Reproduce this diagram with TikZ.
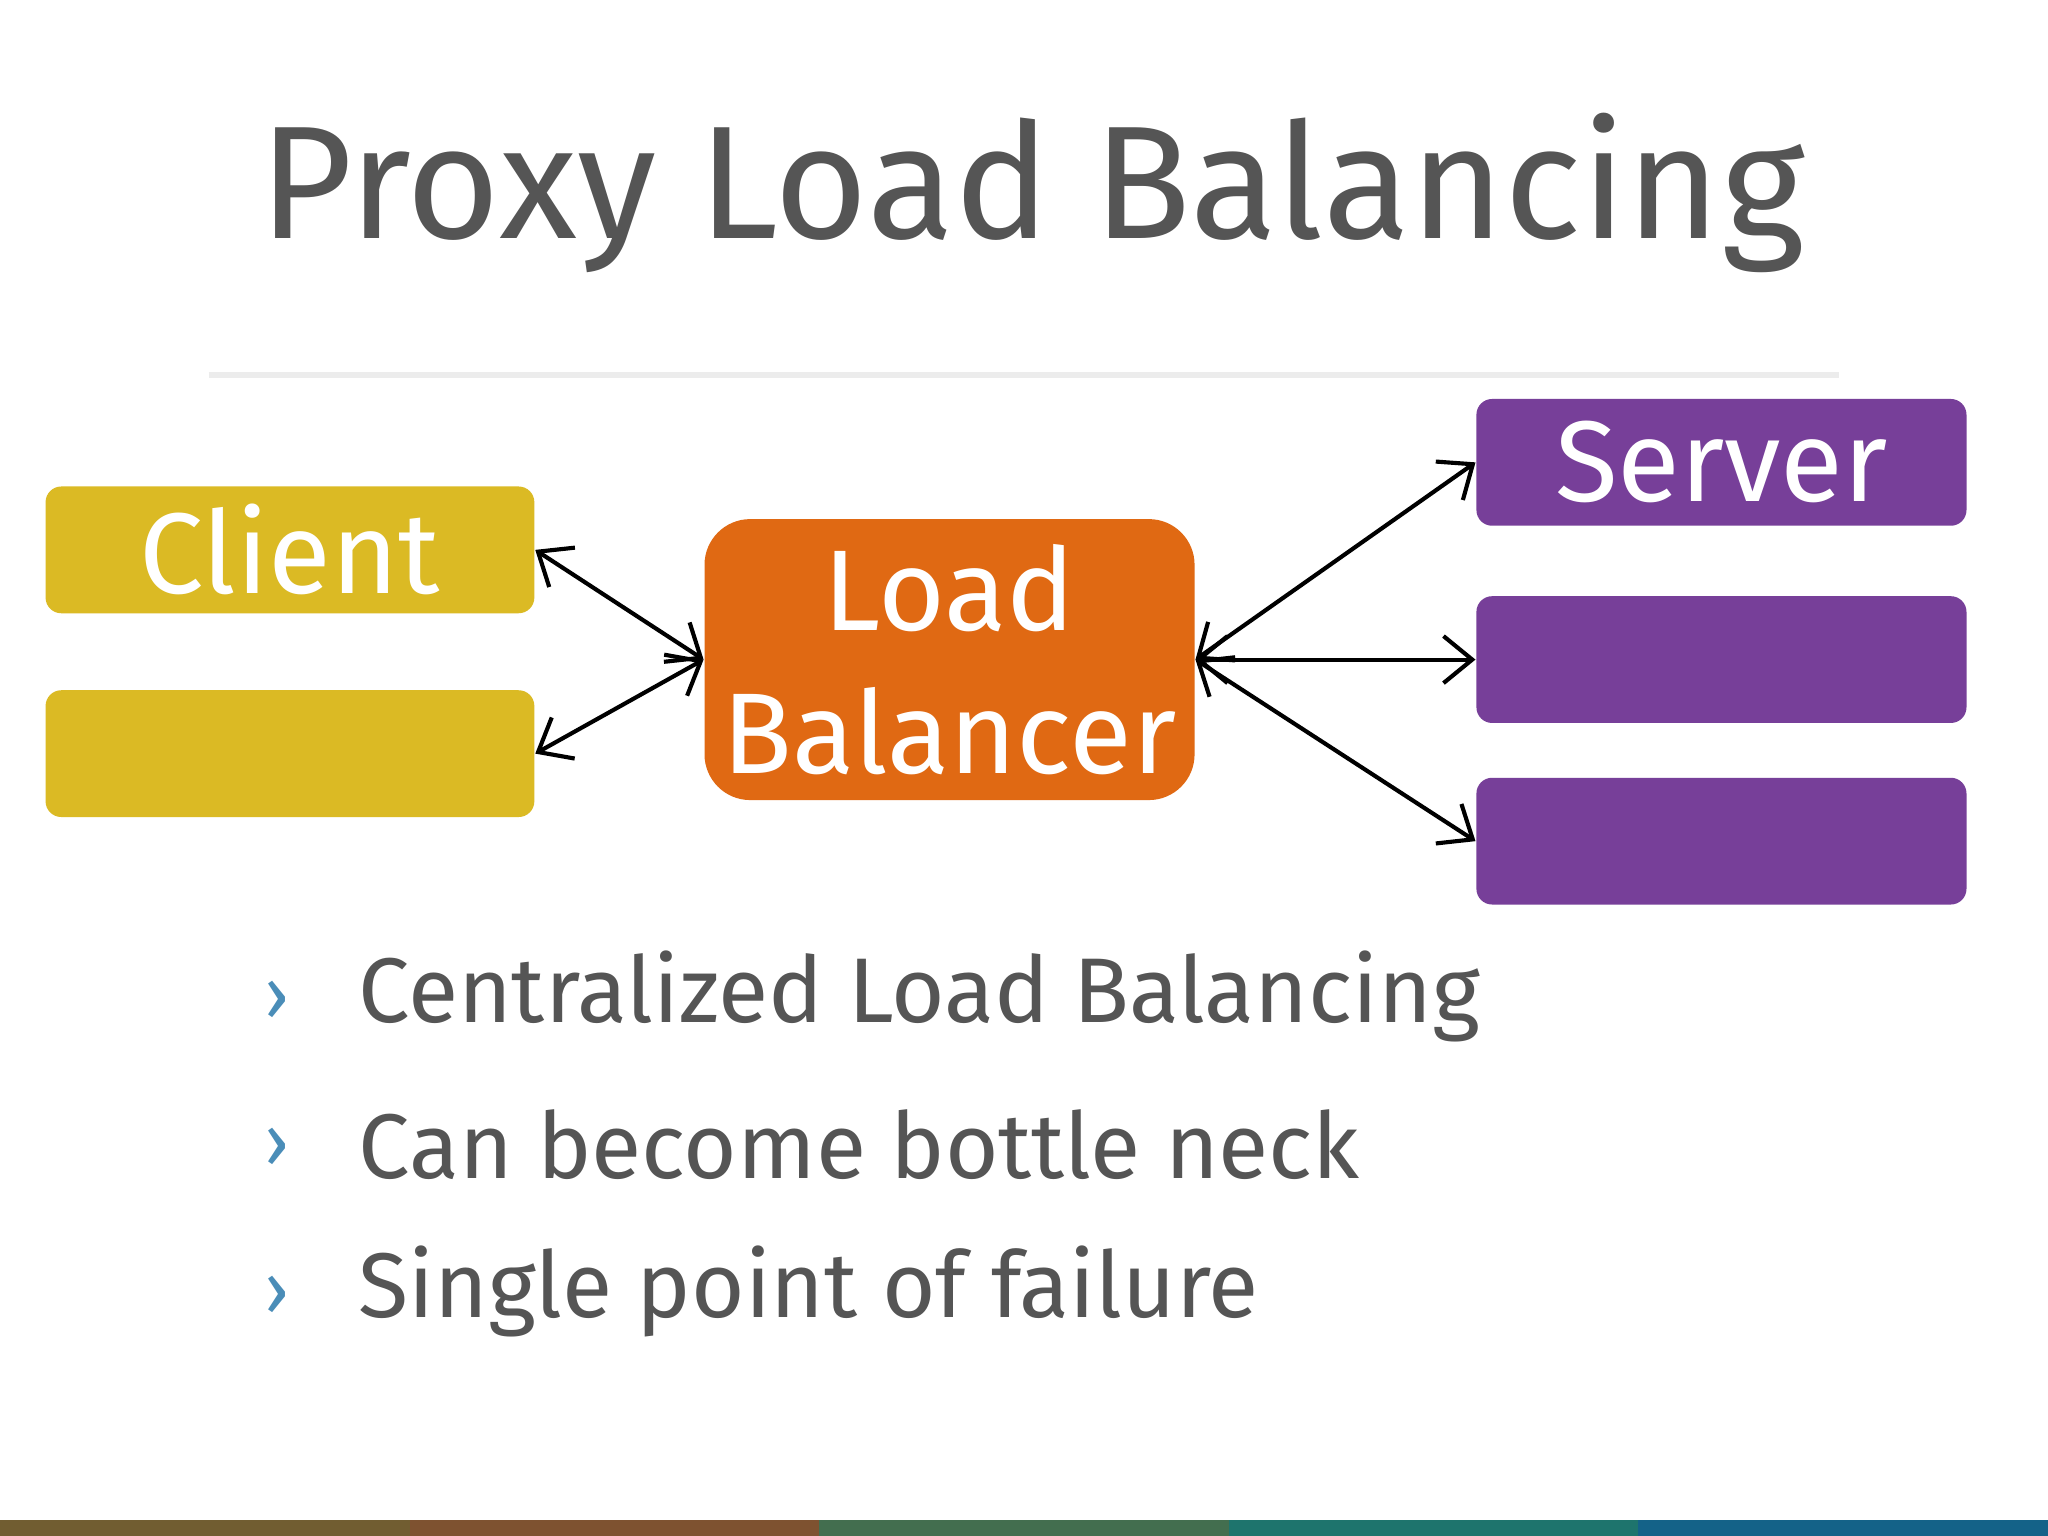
\documentclass[tikz,border=0pt]{standalone}
\usepackage{fontspec}
\setmainfont{Fira Sans}
\usetikzlibrary{arrows.meta}
\definecolor{titlegray}{HTML}{555555}
\definecolor{clientyellow}{HTML}{DBBA24}
\definecolor{lborange}{HTML}{E06913}
\definecolor{serverpurple}{HTML}{773F99}
\definecolor{chevblue}{HTML}{4A8DB8}
\begin{document}
\begin{tikzpicture}[x=0.01cm, y=-0.01cm, >={Straight Barb[length=2.2mm,width=3.6mm,line width=0.9pt]},
  client/.style={rectangle,rounded corners=0.12cm,fill=clientyellow,minimum width=3.74cm,minimum height=0.97cm,text=white,font=\fontsize{25}{28}\selectfont},
  server/.style={rectangle,rounded corners=0.12cm,fill=serverpurple,minimum width=3.75cm,minimum height=0.97cm,text=white,font=\fontsize{25}{28}\selectfont},
  link/.style={<->,line width=0.9pt},
  bullet/.style={anchor=west,text=titlegray,font=\fontsize{20}{24}\selectfont}]

  \useasboundingbox[fill=white] (0,0) rectangle (1568,1176);

  % title
  \node[text=titlegray,font=\fontsize{35}{40}\selectfont] (title) at (790,148) {Proxy Load Balancing};
  \draw[gray!15,line width=1.2pt] (160,287) -- (1408,287);

  % clients
  \node[client] (client-1) at (222,421) {Client};
  \node[client] (client-2) at (222,577) {};

  % load balancer
  \node[rectangle,rounded corners=0.35cm,fill=lborange,minimum width=3.75cm,minimum height=2.15cm,text=white,align=center,font=\fontsize{25}{31}\selectfont] (lb) at (727,505) {Load\\Balancer};

  % servers
  \node[server] (server-1) at (1318,354) {Server};
  \node[server] (server-2) at (1318,505) {};
  \node[server] (server-3) at (1318,644) {};

  % links
  \foreach \c in {1,2}
      \draw[link] (client-\c.east) -- (lb.west);
  \foreach \s in {1,2,3}
      \draw[link] (lb.east) -- (server-\s.west);

  % bullets
  \foreach \t [count=\i] in {Centralized Load Balancing,Can become bottle neck,Single point of failure}
  {
      \node[text=chevblue,font=\fontsize{16}{18}\selectfont] (chev-\i) at (212,653+113*\i) {›};
      \node[bullet] (item-\i) at (262,650+113*\i) {\t};
  }

  % bottom stripe
  \foreach \col [count=\i] in {F5C96A,EE9B5A,77C38C,2FB3A8,1E91C9}
      \fill[color={rgb,255:red,0;green,0;blue,0},fill=white] (0,0) rectangle (0,0);
  \fill[fill={rgb:red,245;green,201;blue,106}] (0,1164) rectangle (314,1176);
  \fill[fill={rgb:red,238;green,155;blue,90}] (314,1164) rectangle (627,1176);
  \fill[fill={rgb:red,119;green,195;blue,140}] (627,1164) rectangle (941,1176);
  \fill[fill={rgb:red,47;green,179;blue,168}] (941,1164) rectangle (1254,1176);
  \fill[fill={rgb:red,30;green,145;blue,201}] (1254,1164) rectangle (1568,1176);
\end{tikzpicture}
\end{document}
